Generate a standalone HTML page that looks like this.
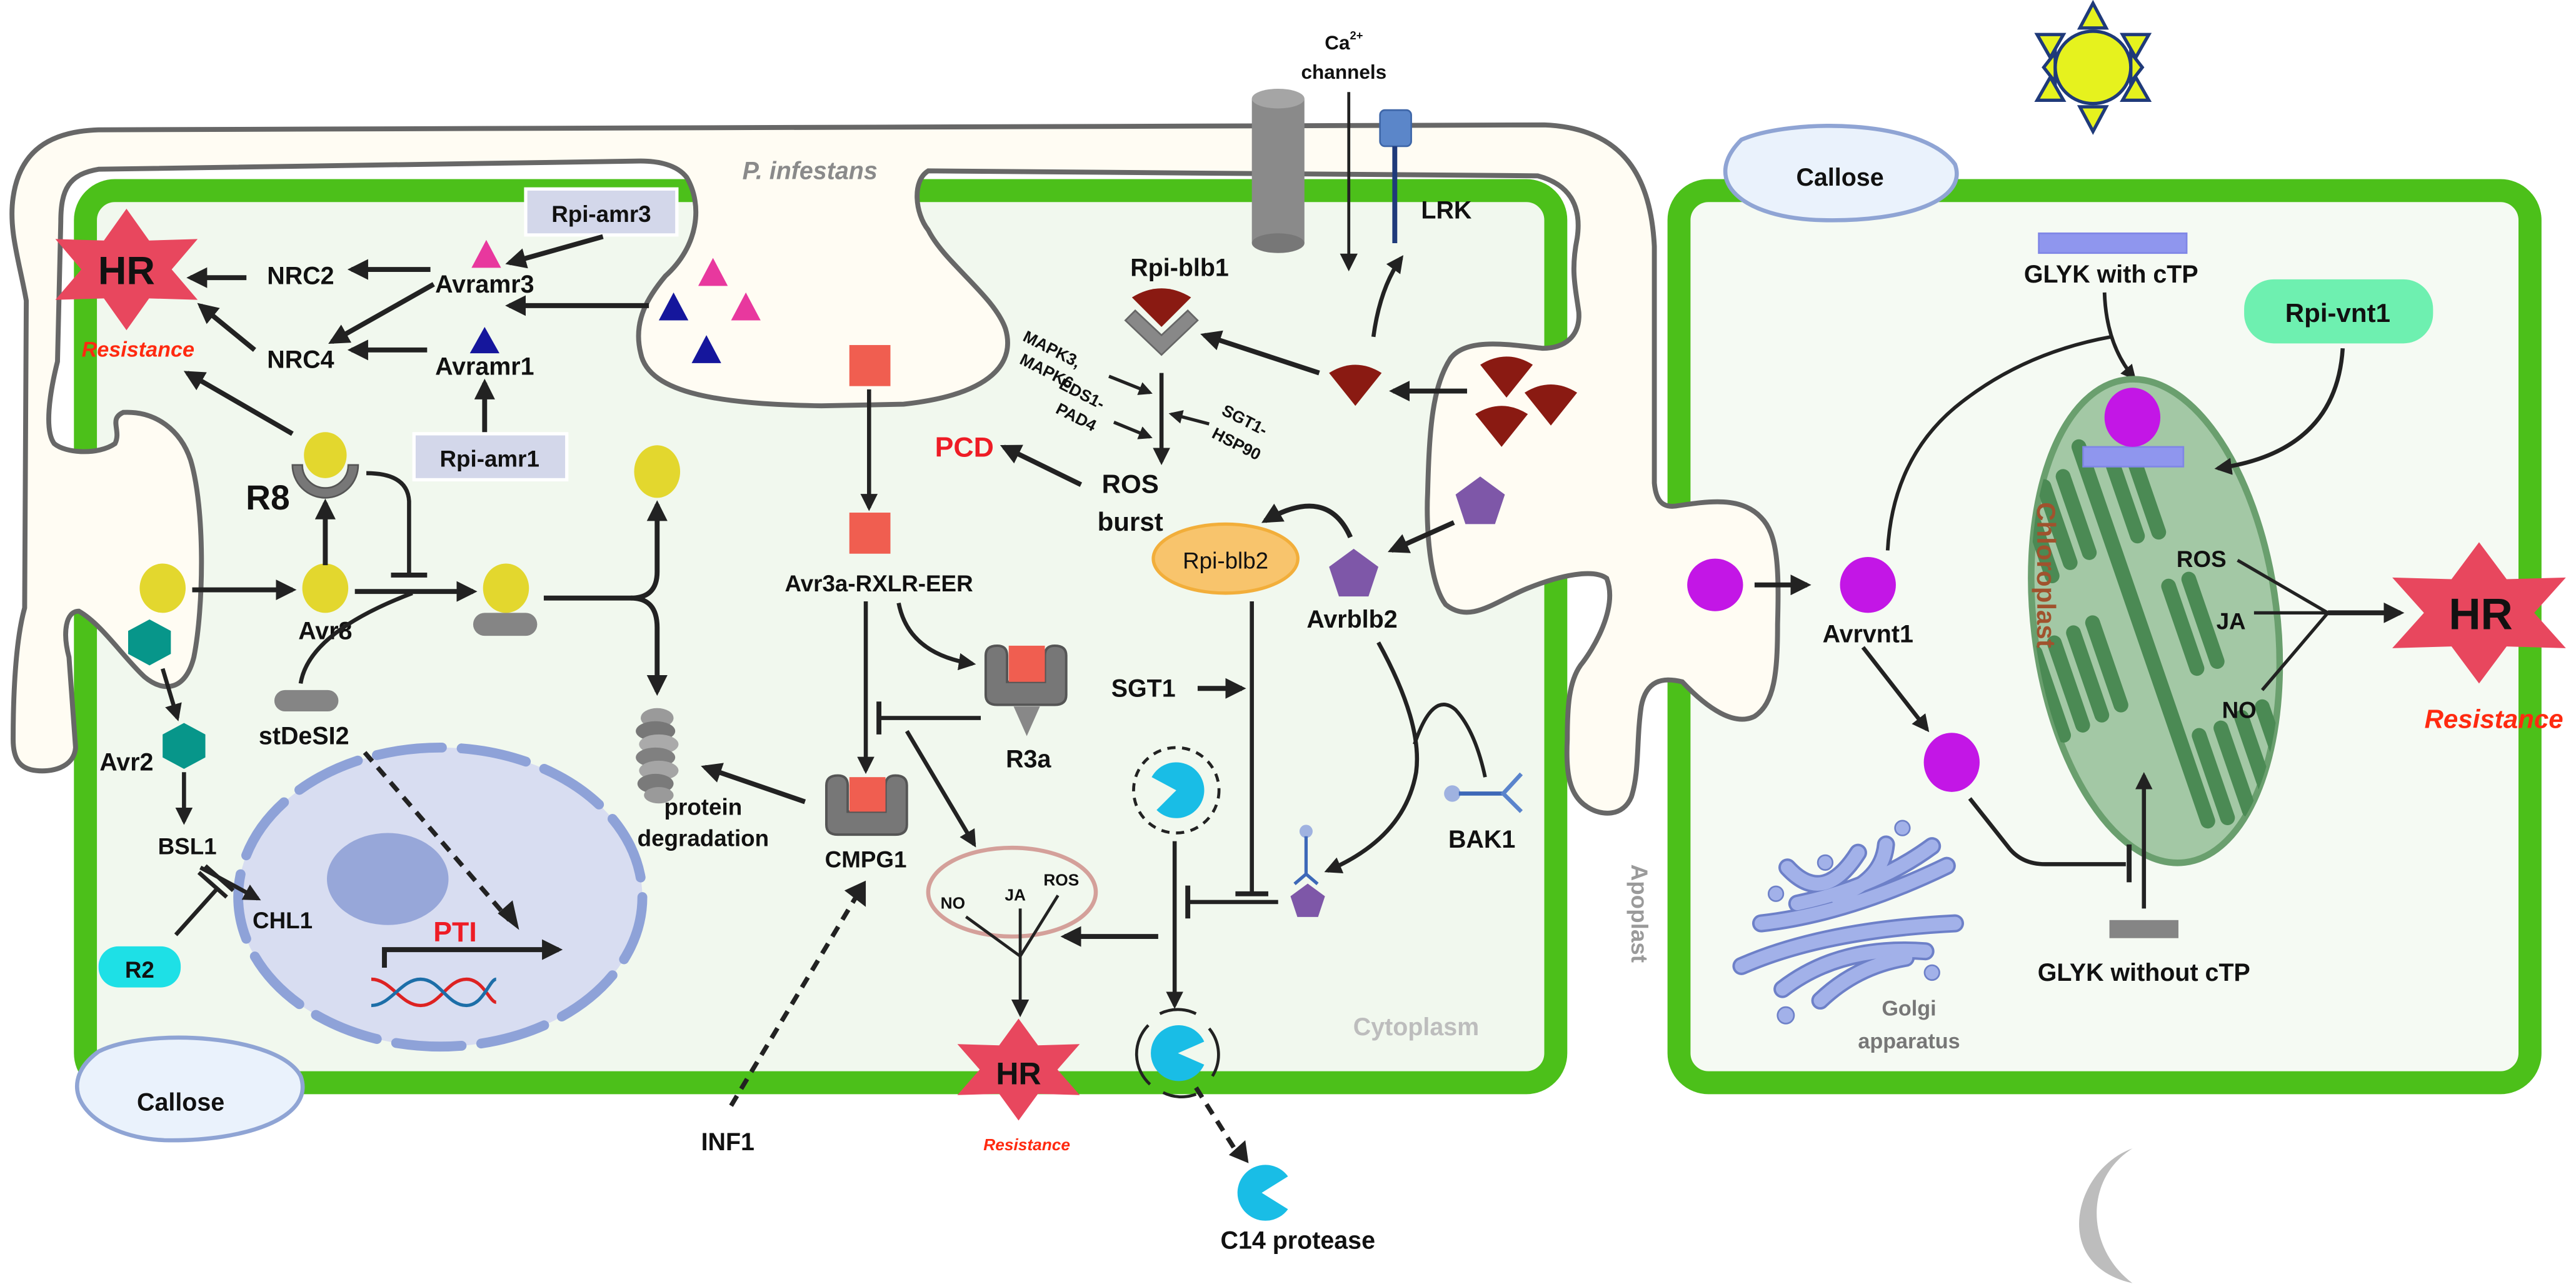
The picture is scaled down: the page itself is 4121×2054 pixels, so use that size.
<!DOCTYPE html>
<html><head><meta charset="utf-8"><style>
html,body{margin:0;padding:0;background:#fff}
svg{display:block}
text{font-family:"Liberation Sans",Arial,sans-serif;font-weight:bold;fill:#111}
</style></head><body>
<svg width="4121" height="2054" viewBox="0 0 1568 781.5" xmlns="http://www.w3.org/2000/svg">
<defs>
<marker id="a" viewBox="0 0 10 10" refX="8" refY="5" markerWidth="4.2" markerHeight="4.2" orient="auto" markerUnits="strokeWidth"><path d="M0,0 L10,5 L0,10 z" fill="#222"/></marker>
<marker id="b" viewBox="0 0 10 10" refX="8" refY="5" markerWidth="6" markerHeight="6" orient="auto" markerUnits="strokeWidth"><path d="M0,0 L10,5 L0,10 z" fill="#222"/></marker>
<polygon id="star" points="0,-1 .275,-.476 .866,-.5 .55,0 .866,.5 .275,.476 0,1 -.275,.476 -.866,.5 -.55,0 -.866,-.5 -.275,-.476" fill="#e8475e"/>
<path id="wedge" d="M-16,-7 Q0,-17 16,-7 L0,13 Z" fill="#8a1a12"/>
<path id="pent" d="M0,-16 L15,-5 L9,13 L-9,13 L-15,-5 Z" fill="#7e57a8"/>
<clipPath id="chl"><ellipse cx="0" cy="0" rx="74" ry="148"/></clipPath>
</defs>

<!-- cells -->
<rect x="52" y="116" width="895" height="543" rx="18" fill="#f1f8ee" stroke="#4cc01a" stroke-width="14"/>
<rect x="1022" y="116" width="518" height="543" rx="18" fill="#f5faf3" stroke="#4cc01a" stroke-width="14"/>

<!-- hypha -->
<path d="M8,450 C8,440 8,395 15,370 L16,183 C12,160 5,140 8,120 C12,92 30,80 60,79 L940,76 C990,78 1005,110 1007,150 L1007,294 C1008,305 1012,309 1020,308 C1040,305 1060,302 1072,315 C1082,325 1083,345 1082,380 C1082,410 1080,428 1068,436 C1056,442 1040,432 1024,415 C1012,412 1002,414 999,430 C996,450 998,470 993,485 C988,497 975,497 966,491 C955,484 953,470 954,450 C954,430 955,415 962,405 C970,395 985,370 978,352 C970,346 950,350 930,358 C910,366 895,380 880,368 C870,355 868,320 869,300 C870,260 872,235 883,218 C893,205 920,210 939,212 C952,212 962,205 961,190 C959,175 956,165 960,145 C963,125 955,112 936,107 L565,104 C555,110 557,130 565,140 C575,160 605,180 612,200 C618,220 605,240 550,246 L500,247 C440,246 395,240 390,215 C385,195 395,180 405,168 C425,150 428,125 418,108 C412,100 400,98 390,98 L60,103 C42,106 37,115 37,135 L35,220 C30,240 27,262 33,270 C40,276 60,277 70,270 C74,262 66,255 75,251 C95,250 110,262 116,280 C125,310 124,370 118,400 C113,420 100,422 88,412 C75,400 62,380 48,372 C40,372 38,385 42,400 L46,455 C45,468 30,470 22,469 C12,468 8,462 8,450 Z" fill="#fffcf3" stroke="#676767" stroke-width="3"/>
<text x="493" y="109" font-size="15" font-style="italic" fill="#8a8a8a" style="fill:#8a8a8a" text-anchor="middle">P. infestans</text>

<!-- Ca channel & LRK -->
<rect x="762" y="60" width="32" height="88" fill="#8a8a8a"/>
<ellipse cx="778" cy="60" rx="16" ry="6" fill="#a5a5a5"/>
<ellipse cx="778" cy="148" rx="16" ry="6" fill="#777"/>
<text x="818" y="30" font-size="12" text-anchor="middle">Ca<tspan font-size="7" dy="-6">2+</tspan></text>
<text x="818" y="48" font-size="12" text-anchor="middle">channels</text>
<line x1="821" y1="56" x2="821" y2="163" stroke="#222" stroke-width="1.8" marker-end="url(#b)"/>
<rect x="840" y="67" width="19" height="22" rx="3" fill="#5b86c9" stroke="#3e66a8" stroke-width="1"/>
<line x1="849" y1="89" x2="849" y2="148" stroke="#1f3a7a" stroke-width="3"/>
<text x="865" y="133" font-size="15">LRK</text>
<path d="M836,205 Q840,175 853,157" fill="none" stroke="#222" stroke-width="2.5" marker-end="url(#a)"/>

<!-- sun -->
<g transform="translate(1274,41)" fill="#e6f21e" stroke="#1f3a7a" stroke-width="2">
<polygon points="0,-39 -8,-24 8,-24"/><polygon points="0,39 -8,24 8,24"/>
<polygon points="34,-20 18,-20 26,-6"/><polygon points="-34,-20 -18,-20 -26,-6"/>
<polygon points="34,20 18,20 26,6"/><polygon points="-34,20 -18,20 -26,6"/>
<polygon points="-30,0 -23,-9 -23,9"/><polygon points="30,0 23,-9 23,9"/>
<ellipse cx="0" cy="0" rx="23" ry="22"/>
</g>
<!-- moon -->
<path d="M1298,699 C1262,712 1248,770 1298,781 C1270,760 1268,718 1298,699 Z" fill="#bdbdbd"/>

<!-- Callose -->
<path d="M60,640 C90,625 170,630 183,655 C192,680 150,695 100,694 C55,692 30,662 60,640 Z" fill="#eaf2fc" stroke="#8fa4d4" stroke-width="2.5"/>
<text x="110" y="676" font-size="15" text-anchor="middle">Callose</text>
<path d="M1060,85 C1090,72 1170,72 1190,100 C1198,122 1160,135 1110,134 C1060,133 1035,110 1060,85 Z" fill="#eaf2fc" stroke="#8fa4d4" stroke-width="2.5"/>
<text x="1120" y="113" font-size="15" text-anchor="middle">Callose</text>

<!-- HR left -->
<use href="#star" transform="translate(77,164) scale(50,37)"/>
<text x="77" y="173" font-size="24" text-anchor="middle">HR</text>
<text x="84" y="217" font-size="13" font-style="italic" style="fill:#ff2a10" text-anchor="middle">Resistance</text>

<text x="183" y="173" font-size="15" text-anchor="middle">NRC2</text>
<text x="183" y="224" font-size="15" text-anchor="middle">NRC4</text>
<line x1="150" y1="169" x2="116" y2="169" stroke="#222" stroke-width="3" marker-end="url(#a)"/>
<line x1="155" y1="213" x2="122" y2="186" stroke="#222" stroke-width="3" marker-end="url(#a)"/>
<text x="295" y="178" font-size="15" text-anchor="middle">Avramr3</text>
<text x="295" y="228" font-size="15" text-anchor="middle">Avramr1</text>
<line x1="262" y1="164" x2="214" y2="164" stroke="#222" stroke-width="3" marker-end="url(#a)"/>
<line x1="264" y1="173" x2="202" y2="208" stroke="#222" stroke-width="3" marker-end="url(#a)"/>
<line x1="260" y1="213" x2="214" y2="213" stroke="#222" stroke-width="3" marker-end="url(#a)"/>
<polygon points="296,146 287,163 305,163" fill="#e8389e"/>
<polygon points="295,199 286,215 304,215" fill="#15169c"/>
<polygon points="434,157 425,174 443,174" fill="#e8389e"/>
<polygon points="454,178 445,195 463,195" fill="#e8389e"/>
<polygon points="410,178 401,195 419,195" fill="#15169c"/>
<polygon points="430,204 421,221 439,221" fill="#15169c"/>
<line x1="395" y1="186" x2="310" y2="186" stroke="#222" stroke-width="3" marker-end="url(#a)"/>
<rect x="320" y="115" width="92" height="28" fill="#d3d7ea" stroke="#fff" stroke-width="2"/>
<text x="366" y="135" font-size="14" text-anchor="middle">Rpi-amr3</text>
<line x1="367" y1="144" x2="310" y2="160" stroke="#222" stroke-width="3" marker-end="url(#a)"/>
<rect x="252" y="264" width="93" height="28" fill="#d3d7ea" stroke="#fff" stroke-width="2"/>
<text x="298" y="284" font-size="14" text-anchor="middle">Rpi-amr1</text>
<line x1="295" y1="263" x2="295" y2="233" stroke="#222" stroke-width="3" marker-end="url(#a)"/>

<!-- R8 -->
<line x1="178" y1="264" x2="114" y2="227" stroke="#222" stroke-width="3" marker-end="url(#a)"/>
<path d="M178,283 A20,20 0 0 0 218,283 L212,283 A14,14 0 0 1 184,283 Z" fill="#777" stroke="#555" stroke-width="1"/>
<ellipse cx="198" cy="277" rx="13" ry="14" fill="#e3d72e"/>
<text x="163" y="310" font-size="21" text-anchor="middle">R8</text>
<path d="M223,288 Q248,288 249,305 L249,350" fill="none" stroke="#222" stroke-width="2.5"/>
<line x1="238" y1="350" x2="260" y2="350" stroke="#222" stroke-width="3"/>
<ellipse cx="99" cy="358" rx="14" ry="15" fill="#e3d72e"/>
<line x1="117" y1="359" x2="178" y2="359" stroke="#222" stroke-width="3" marker-end="url(#a)"/>
<ellipse cx="198" cy="358" rx="14" ry="15" fill="#e3d72e"/>
<line x1="198" y1="344" x2="198" y2="306" stroke="#222" stroke-width="3" marker-end="url(#a)"/>
<text x="198" y="389" font-size="15" text-anchor="middle">Avr8</text>
<line x1="216" y1="360" x2="288" y2="360" stroke="#222" stroke-width="3" marker-end="url(#a)"/>
<path d="M183,416 Q188,385 251,361" fill="none" stroke="#222" stroke-width="2.5"/>
<rect x="167" y="420" width="39" height="13" rx="6.5" fill="#858585"/>
<text x="185" y="453" font-size="15" text-anchor="middle">stDeSI2</text>
<rect x="288" y="373" width="39" height="14" rx="7" fill="#858585"/>
<ellipse cx="308" cy="358" rx="14" ry="15" fill="#e3d72e"/>
<path d="M331,364 L384,364 Q400,364 400,348 L400,307" fill="none" stroke="#222" stroke-width="3" marker-end="url(#a)"/>
<path d="M384,364 Q400,364 400,382 L400,421" fill="none" stroke="#222" stroke-width="3" marker-end="url(#a)"/>
<ellipse cx="400" cy="287" rx="14" ry="16" fill="#e3d72e"/>
<!-- protein degradation -->
<g>
<ellipse cx="400" cy="437" rx="10" ry="6" fill="#9a9a9a"/>
<ellipse cx="399" cy="445" rx="12" ry="6" fill="#777"/>
<ellipse cx="401" cy="453" rx="12" ry="6" fill="#aaa"/>
<ellipse cx="399" cy="461" rx="12" ry="6" fill="#808080"/>
<ellipse cx="401" cy="469" rx="12" ry="6" fill="#a5a5a5"/>
<ellipse cx="399" cy="477" rx="11" ry="6" fill="#7a7a7a"/>
<ellipse cx="401" cy="484" rx="9" ry="5" fill="#9a9a9a"/>
</g>
<text x="428" y="496" font-size="14" text-anchor="middle">protein</text>
<text x="428" y="515" font-size="14" text-anchor="middle">degradation</text>

<!-- Avr2 -->
<polygon points="91,377 104,384 104,398 91,405 78,398 78,384" fill="#07968a"/>
<line x1="99" y1="407" x2="108" y2="437" stroke="#222" stroke-width="2.5" marker-end="url(#a)"/>
<polygon points="112,440 125,447 125,461 112,468 99,461 99,447" fill="#07968a"/>
<text x="77" y="469" font-size="15" text-anchor="middle">Avr2</text>
<line x1="112" y1="470" x2="112" y2="500" stroke="#222" stroke-width="2.5" marker-end="url(#a)"/>
<text x="114" y="520" font-size="14" text-anchor="middle">BSL1</text>

<!-- nucleus -->
<ellipse cx="268" cy="546" rx="123" ry="91" fill="#d8ddf1" stroke="#8ea2d8" stroke-width="6" stroke-dasharray="40,12" stroke-linecap="round"/>
<ellipse cx="236" cy="535" rx="37" ry="28" fill="#97a7d9"/>
<text x="172" y="565" font-size="14" text-anchor="middle">CHL1</text>
<line x1="122" y1="528" x2="157" y2="547" stroke="#222" stroke-width="2.5" marker-end="url(#a)"/>
<line x1="107" y1="569" x2="133" y2="540" stroke="#222" stroke-width="2.5"/>
<line x1="121" y1="531" x2="138" y2="546" stroke="#222" stroke-width="2.5"/>
<line x1="125" y1="527" x2="142" y2="542" stroke="#222" stroke-width="2.5"/>
<rect x="60" y="576" width="50" height="25" rx="12" fill="#1ee0e6"/>
<text x="85" y="595" font-size="14" text-anchor="middle">R2</text>
<text x="277" y="573" font-size="17" style="fill:#ee1c25" text-anchor="middle">PTI</text>
<path d="M234,589 L234,578 L340,578" fill="none" stroke="#222" stroke-width="3" marker-end="url(#a)"/>
<path d="M226,596 C238,596 244,612 256,612 C268,612 272,596 284,596 C294,596 298,610 302,610" fill="none" stroke="#d22" stroke-width="2"/>
<path d="M226,612 C238,612 244,596 256,596 C268,596 272,612 284,612 C294,612 298,596 302,596" fill="none" stroke="#1c6ea8" stroke-width="2"/>
<line x1="222" y1="458" x2="310" y2="560" stroke="#222" stroke-width="2.8" stroke-dasharray="7,5"/>
<path d="M303,556 L316,566 L312,548 Z" fill="#222"/>

<!-- Avr3a / CMPG1 / R3a -->
<rect x="517" y="210" width="25" height="25" fill="#f05e50"/>
<line x1="529" y1="237" x2="529" y2="309" stroke="#222" stroke-width="2.5" marker-end="url(#a)"/>
<rect x="517" y="312" width="25" height="25" fill="#f05e50"/>
<text x="535" y="360" font-size="14" text-anchor="middle">Avr3a-RXLR-EER</text>
<line x1="527" y1="366" x2="527" y2="469" stroke="#222" stroke-width="2.5" marker-end="url(#a)"/>
<path d="M547,367 Q553,398 592,404" fill="none" stroke="#222" stroke-width="2.5" marker-end="url(#a)"/>
<path d="M503,478 Q503,472 510,472 Q516,472 516,478 L516,494 L539,494 L539,478 Q539,472 545,472 Q552,472 552,478 L552,502 Q552,508 545,508 L510,508 Q503,508 503,502 Z" fill="#777" stroke="#555" stroke-width="1.5"/>
<rect x="517" y="473" width="22" height="21" fill="#f05e50"/>
<text x="527" y="528" font-size="14" text-anchor="middle">CMPG1</text>
<path d="M600,399 Q600,393 607,393 Q613,393 613,399 L613,415 L636,415 L636,399 Q636,393 642,393 Q649,393 649,399 L649,423 Q649,429 642,429 L607,429 Q600,429 600,423 Z" fill="#777" stroke="#555" stroke-width="1.5"/>
<rect x="614" y="393" width="22" height="22" fill="#f05e50"/>
<polygon points="617,430 633,430 625,448" fill="#888"/>
<text x="626" y="467" font-size="15" text-anchor="middle">R3a</text>
<line x1="597" y1="437" x2="536" y2="437" stroke="#222" stroke-width="2.5"/>
<line x1="535" y1="427" x2="535" y2="447" stroke="#222" stroke-width="3"/>
<line x1="552" y1="445" x2="593" y2="514" stroke="#222" stroke-width="2.5" marker-end="url(#a)"/>
<line x1="490" y1="488" x2="429" y2="467" stroke="#222" stroke-width="3" marker-end="url(#a)"/>
<!-- INF1 -->
<line x1="445" y1="673" x2="521" y2="546" stroke="#222" stroke-width="2.8" stroke-dasharray="7,5"/>
<path d="M514,542 L527,536 L527,552 Z" fill="#222"/>
<text x="443" y="700" font-size="15" text-anchor="middle">INF1</text>

<!-- NO JA ROS ellipse -->
<ellipse cx="616" cy="543" rx="51" ry="27" fill="none" stroke="#d4a09a" stroke-width="2.5"/>
<text x="580" y="553" font-size="10" text-anchor="middle">NO</text>
<text x="618" y="548" font-size="10" text-anchor="middle">JA</text>
<text x="646" y="539" font-size="10" text-anchor="middle">ROS</text>
<path d="M588,558 L621,582 M621,553 L621,582 M644,545 L621,582" fill="none" stroke="#222" stroke-width="1.8"/>
<line x1="621" y1="582" x2="621" y2="617" stroke="#222" stroke-width="1.8" marker-end="url(#b)"/>
<use href="#star" transform="translate(620,651) scale(43,31)"/>
<text x="620" y="660" font-size="19" text-anchor="middle">HR</text>
<text x="625" y="700" font-size="10" font-style="italic" style="fill:#ff2a10" text-anchor="middle">Resistance</text>
<line x1="705" y1="570" x2="648" y2="570" stroke="#222" stroke-width="3" marker-end="url(#a)"/>

<!-- C14 protease -->
<circle cx="716" cy="481" r="26" fill="none" stroke="#222" stroke-width="1.8" stroke-dasharray="5,4"/>
<path d="M716,481 L701,473 A17,17 0 1 1 704,493 Z" fill="#19bde6"/>
<line x1="715" y1="512" x2="715" y2="612" stroke="#222" stroke-width="2.5" marker-end="url(#a)"/>
<path d="M717,641 L733,634 A17,17 0 1 0 733,648 Z" fill="#19bde6"/>
<path d="M706,617 A25,25 0 0 1 728,617 M699,624 A25,25 0 0 0 700,660 M736,626 A25,25 0 0 1 738,655 M708,665 A25,25 0 0 0 728,666" fill="none" stroke="#222" stroke-width="1.8"/>
<line x1="728" y1="662" x2="752" y2="700" stroke="#222" stroke-width="2.8" stroke-dasharray="7,5"/>
<path d="M748,703 L760,708 L758,694 Z" fill="#222"/>
<path d="M768,726 L784,716 A17,17 0 1 0 784,736 Z" fill="#19bde6"/>
<text x="790" y="760" font-size="15" text-anchor="middle">C14 protease</text>

<!-- SGT1 / Rpi-blb2 inhibition -->
<text x="696" y="424" font-size="15" text-anchor="middle">SGT1</text>
<line x1="729" y1="419" x2="756" y2="419" stroke="#222" stroke-width="3" marker-end="url(#a)"/>
<line x1="762" y1="366" x2="762" y2="544" stroke="#222" stroke-width="2.5"/>
<line x1="752" y1="544" x2="772" y2="544" stroke="#222" stroke-width="3"/>
<line x1="778" y1="549" x2="724" y2="549" stroke="#222" stroke-width="2.5"/>
<line x1="723" y1="539" x2="723" y2="559" stroke="#222" stroke-width="3"/>
<ellipse cx="746" cy="340" rx="44" ry="21" fill="#f8c46c" stroke="#f2ae3a" stroke-width="2"/>
<text x="746" y="346" font-size="14" font-weight="normal" style="font-weight:normal" text-anchor="middle">Rpi-blb2</text>

<!-- Rpi-blb1 -->
<text x="718" y="168" font-size="15" text-anchor="middle">Rpi-blb1</text>
<path d="M685,195 L691,189 L707,204 L723,189 L729,195 L707,216 Z" fill="#888" stroke="#666" stroke-width="1"/>
<path d="M689,181 Q707,170 725,181 L707,199 Z" fill="#8a1a12"/>
<line x1="707" y1="227" x2="707" y2="281" stroke="#222" stroke-width="2.5" marker-end="url(#a)"/>
<text transform="translate(622,207) rotate(27)" font-size="10">MAPK3,</text>
<text transform="translate(620,221) rotate(27)" font-size="10">MAPK6</text>
<text transform="translate(644,236) rotate(27)" font-size="10">EDS1-</text>
<text transform="translate(642,251) rotate(27)" font-size="10">PAD4</text>
<text transform="translate(743,252) rotate(27)" font-size="10">SGT1-</text>
<text transform="translate(737,266) rotate(27)" font-size="10">HSP90</text>
<line x1="675" y1="229" x2="700" y2="239" stroke="#222" stroke-width="2" marker-end="url(#a)"/>
<line x1="678" y1="257" x2="700" y2="266" stroke="#222" stroke-width="2" marker-end="url(#a)"/>
<line x1="736" y1="258" x2="713" y2="252" stroke="#222" stroke-width="2" marker-end="url(#a)"/>
<text x="688" y="300" font-size="16" text-anchor="middle">ROS</text>
<text x="688" y="323" font-size="16" text-anchor="middle">burst</text>
<text x="587" y="278" font-size="17" style="fill:#ee1c25" text-anchor="middle">PCD</text>
<line x1="658" y1="295" x2="611" y2="272" stroke="#222" stroke-width="3" marker-end="url(#a)"/>
<use href="#wedge" transform="translate(825,234)"/>
<line x1="803" y1="227" x2="733" y2="204" stroke="#222" stroke-width="3" marker-end="url(#a)"/>
<use href="#wedge" transform="translate(917,229)"/>
<use href="#wedge" transform="translate(944,246)"/>
<use href="#wedge" transform="translate(914,259)"/>
<line x1="893" y1="238" x2="848" y2="238" stroke="#222" stroke-width="3" marker-end="url(#a)"/>

<!-- Avrblb2 -->
<use href="#pent" transform="translate(901,306)"/>
<line x1="885" y1="318" x2="847" y2="335" stroke="#222" stroke-width="3" marker-end="url(#a)"/>
<use href="#pent" transform="translate(824,350)"/>
<path d="M822,327 Q808,295 770,317" fill="none" stroke="#222" stroke-width="3" marker-end="url(#a)"/>
<text x="823" y="382" font-size="15" text-anchor="middle">Avrblb2</text>
<path d="M839,391 Q866,440 862,470 Q855,510 808,530" fill="none" stroke="#222" stroke-width="2.5" marker-end="url(#a)"/>
<path d="M861,453 Q872,420 886,432 Q898,445 904,473" fill="none" stroke="#222" stroke-width="2.2"/>
<circle cx="884" cy="483" r="5" fill="#9fb2e0"/>
<line x1="888" y1="483" x2="915" y2="483" stroke="#3d68b8" stroke-width="2.5"/>
<path d="M926,471 L915,483 L926,494" fill="none" stroke="#5a84cc" stroke-width="2.5"/>
<text x="902" y="516" font-size="15" text-anchor="middle">BAK1</text>
<circle cx="795" cy="506" r="4" fill="#9fb2e0"/>
<line x1="795" y1="509" x2="795" y2="532" stroke="#3d68b8" stroke-width="2"/>
<path d="M788,538 L795,532 L802,538" fill="none" stroke="#3d68b8" stroke-width="2"/>
<use href="#pent" transform="translate(796,549) scale(0.7)"/>
<text x="862" y="630" font-size="15" style="fill:#bdbdbd" text-anchor="middle">Cytoplasm</text>
<text transform="translate(993,556) rotate(90)" font-size="14" style="fill:#9a9a9a" text-anchor="middle">Apoplast</text>

<!-- right cell -->
<ellipse cx="1044" cy="356" rx="17" ry="16" fill="#c316e6"/>
<line x1="1068" y1="356" x2="1100" y2="356" stroke="#222" stroke-width="3" marker-end="url(#a)"/>
<ellipse cx="1137" cy="356" rx="17" ry="17" fill="#c316e6"/>
<text x="1137" y="391" font-size="15" text-anchor="middle">Avrvnt1</text>
<line x1="1134" y1="394" x2="1173" y2="444" stroke="#222" stroke-width="2.5" marker-end="url(#a)"/>
<ellipse cx="1188" cy="464" rx="17" ry="18" fill="#c316e6"/>
<path d="M1149,335 Q1152,280 1190,248 Q1230,215 1285,205" fill="none" stroke="#222" stroke-width="2.2"/>
<rect x="1241" y="142" width="90" height="12" fill="#8f96ee" stroke="#7f86e6" stroke-width="1"/>
<text x="1285" y="172" font-size="15" text-anchor="middle">GLYK with cTP</text>
<path d="M1281,178 Q1282,210 1299,230" fill="none" stroke="#222" stroke-width="2.2" marker-end="url(#a)"/>
<rect x="1366" y="170" width="115" height="39" rx="18" fill="#6ef0b0"/>
<text x="1423" y="196" font-size="16" text-anchor="middle">Rpi-vnt1</text>

<!-- chloroplast -->
<g transform="translate(1312,378) rotate(-7)">
<ellipse cx="0" cy="0" rx="74" ry="148" fill="#a3c8a5" stroke="#6a9f6e" stroke-width="4"/>
<g clip-path="url(#chl)" fill="#4b8a54">
<g transform="rotate(-12)">
<rect x="-14" y="-120" width="9" height="250" rx="4.5"/>
<rect x="-55" y="-100" width="9" height="58" rx="4.5"/>
<rect x="-42" y="-104" width="9" height="58" rx="4.5"/>
<rect x="-29" y="-106" width="9" height="58" rx="4.5"/>
<rect x="2" y="-106" width="9" height="58" rx="4.5"/>
<rect x="15" y="-104" width="9" height="58" rx="4.5"/>
<rect x="-80" y="-10" width="9" height="62" rx="4.5"/>
<rect x="-67" y="-12" width="9" height="62" rx="4.5"/>
<rect x="-54" y="-14" width="9" height="62" rx="4.5"/>
<rect x="-41" y="-16" width="9" height="62" rx="4.5"/>
<rect x="10" y="-22" width="9" height="62" rx="4.5"/>
<rect x="23" y="-22" width="9" height="62" rx="4.5"/>
<rect x="-2" y="70" width="9" height="62" rx="4.5"/>
<rect x="12" y="70" width="9" height="62" rx="4.5"/>
<rect x="26" y="68" width="9" height="62" rx="4.5"/>
<rect x="40" y="66" width="9" height="62" rx="4.5"/>
</g></g></g>
<text transform="translate(1240,350) rotate(90)" font-size="16" style="fill:#a0522d" text-anchor="middle">Chloroplast</text>
<rect x="1268" y="272" width="61" height="12" fill="#8f96ee" stroke="#7f86e6" stroke-width="1"/>
<ellipse cx="1298" cy="254" rx="17" ry="18" fill="#c316e6"/>
<path d="M1426,212 Q1422,275 1350,285" fill="none" stroke="#222" stroke-width="2.5" marker-end="url(#a)"/>
<text x="1340" y="345" font-size="14" text-anchor="middle">ROS</text>
<text x="1358" y="383" font-size="14" text-anchor="middle">JA</text>
<text x="1363" y="437" font-size="14" text-anchor="middle">NO</text>
<path d="M1362,341 L1417,373 M1372,373 L1417,373 M1377,420 L1417,373" fill="none" stroke="#222" stroke-width="2"/>
<line x1="1417" y1="373" x2="1461" y2="373" stroke="#222" stroke-width="3" marker-end="url(#a)"/>
<use href="#star" transform="translate(1509,373) scale(61,43)"/>
<text x="1510" y="383" font-size="27" text-anchor="middle">HR</text>
<text x="1518" y="443" font-size="16" font-style="italic" style="fill:#ff2a10" text-anchor="middle">Resistance</text>
<path d="M1199,486 L1222,515 Q1230,526 1245,526 L1294,526" fill="none" stroke="#222" stroke-width="2.5"/>
<line x1="1296" y1="514" x2="1296" y2="537" stroke="#222" stroke-width="3"/>
<line x1="1305" y1="553" x2="1305" y2="472" stroke="#222" stroke-width="2.5" marker-end="url(#a)"/>
<rect x="1284" y="560" width="42" height="11" fill="#858585"/>
<text x="1305" y="597" font-size="15" text-anchor="middle">GLYK without cTP</text>

<!-- Golgi -->
<g fill="none" stroke-linecap="round">
<g stroke="#6d80c8" stroke-width="11">
<path d="M1060,588 Q1110,566 1190,562"/><path d="M1072,562 Q1125,556 1185,527"/>
<path d="M1094,550 Q1142,540 1176,515"/><path d="M1088,528 Q1110,552 1131,519"/>
<path d="M1148,514 Q1146,536 1118,546"/><path d="M1085,602 Q1120,575 1172,579"/>
<path d="M1108,609 Q1130,588 1160,583"/>
</g>
<g stroke="#a2b1e9" stroke-width="8">
<path d="M1060,588 Q1110,566 1190,562"/><path d="M1072,562 Q1125,556 1185,527"/>
<path d="M1094,550 Q1142,540 1176,515"/><path d="M1088,528 Q1110,552 1131,519"/>
<path d="M1148,514 Q1146,536 1118,546"/><path d="M1085,602 Q1120,575 1172,579"/>
<path d="M1108,609 Q1130,588 1160,583"/>
</g></g>
<g fill="#a2b1e9" stroke="#6d80c8" stroke-width="1">
<circle cx="1158" cy="504" r="4.5"/><circle cx="1111" cy="525" r="4.5"/><circle cx="1081" cy="544" r="4.5"/>
<circle cx="1176" cy="592" r="4.5"/><circle cx="1087" cy="618" r="5"/>
</g>
<text x="1162" y="618" font-size="13" style="fill:#777" text-anchor="middle">Golgi</text>
<text x="1162" y="638" font-size="13" style="fill:#777" text-anchor="middle">apparatus</text>
</svg>
</body></html>
